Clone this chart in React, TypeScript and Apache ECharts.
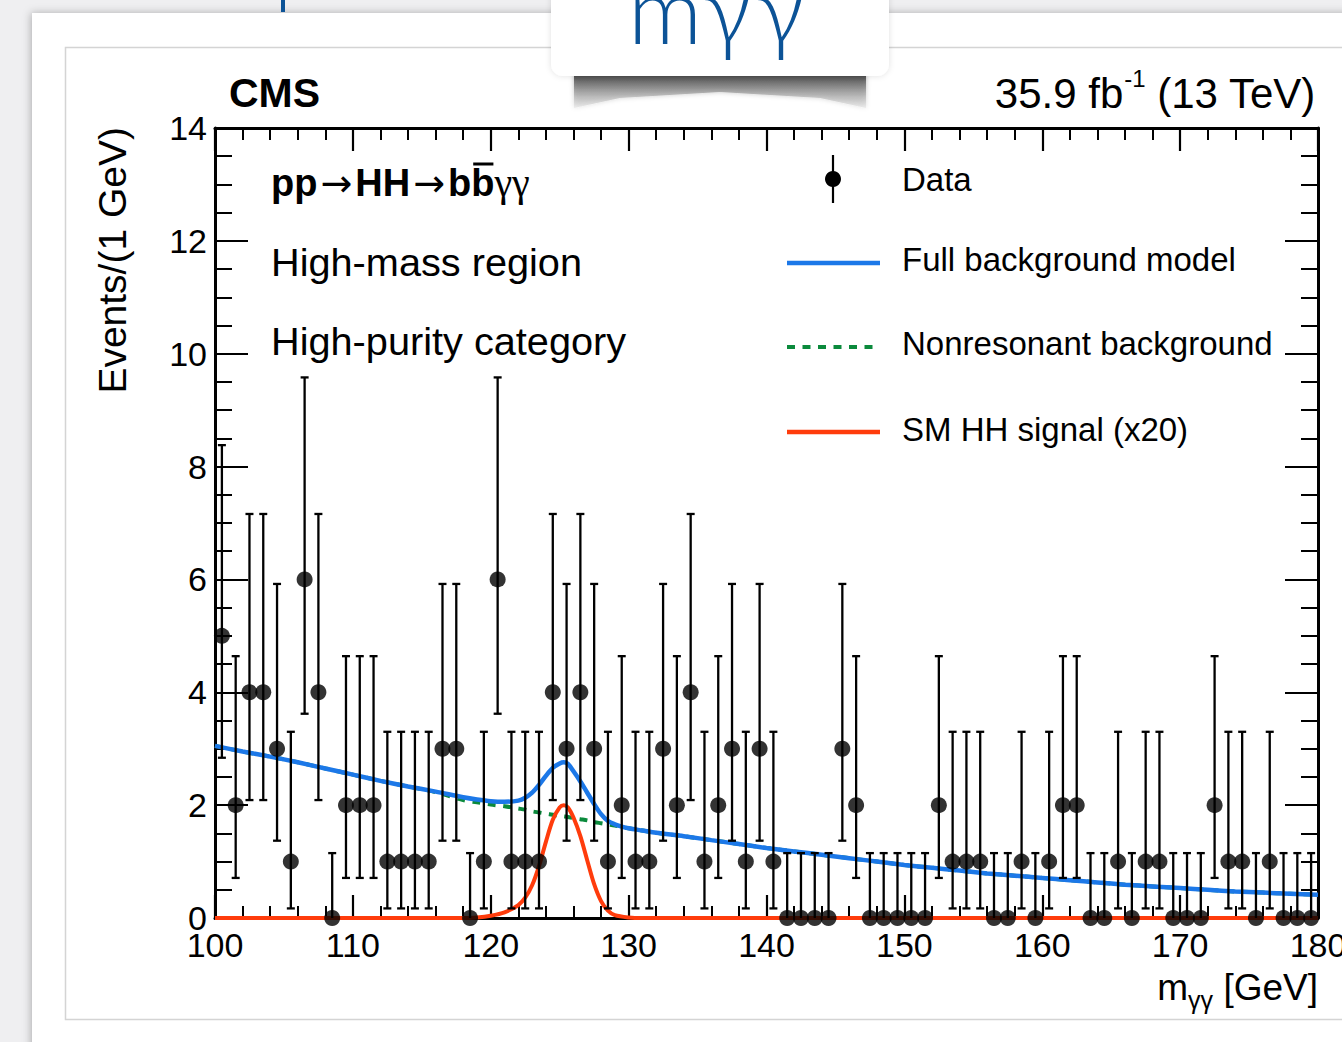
import React, { useEffect, useRef } from "react";
import * as echarts from "echarts";

// ---------------- data ----------------
const binCenters = [
  100.5, 101.5, 102.5, 103.5, 104.5, 105.5, 106.5, 107.5, 108.5, 109.5,
  110.5, 111.5, 112.5, 113.5, 114.5, 115.5, 116.5, 117.5, 118.5, 119.5,
  120.5, 121.5, 122.5, 123.5, 124.5, 125.5, 126.5, 127.5, 128.5, 129.5,
  130.5, 131.5, 132.5, 133.5, 134.5, 135.5, 136.5, 137.5, 138.5, 139.5,
  140.5, 141.5, 142.5, 143.5, 144.5, 145.5, 146.5, 147.5, 148.5, 149.5,
  150.5, 151.5, 152.5, 153.5, 154.5, 155.5, 156.5, 157.5, 158.5, 159.5,
  160.5, 161.5, 162.5, 163.5, 164.5, 165.5, 166.5, 167.5, 168.5, 169.5,
  170.5, 171.5, 172.5, 173.5, 174.5, 175.5, 176.5, 177.5, 178.5, 179.5,
];
const eventCounts = [
  5, 2, 4, 4, 3, 1, 6, 4, 0, 2,
  2, 2, 1, 1, 1, 1, 3, 3, 0, 1,
  6, 1, 1, 1, 4, 3, 4, 3, 1, 2,
  1, 1, 3, 2, 4, 1, 2, 3, 1, 3,
  1, 0, 0, 0, 0, 3, 2, 0, 0, 0,
  0, 0, 2, 1, 1, 1, 0, 0, 1, 0,
  1, 2, 2, 0, 0, 1, 0, 1, 1, 0,
  0, 0, 2, 1, 1, 0, 1, 0, 0, 0,
];
// Poisson interval bounds (index = observed count), as drawn
const poissonLow = [0, 0.17, 0.71, 1.37, 2.09, 2.84, 3.62];
const poissonHigh = [1.15, 3.3, 4.64, 5.92, 7.16, 8.38, 9.58];

const bkgMass = [
  100, 102, 104, 106, 108, 110, 112, 114, 116, 118, 119, 120, 121, 122, 122.5,
  123, 123.5, 124, 124.5, 125, 125.3, 125.6, 126, 126.5, 127, 127.5, 128, 128.5,
  129, 129.5, 130, 131, 132, 134, 136, 138, 140, 142, 144, 146, 148, 150, 152,
  154, 156, 158, 160, 162, 164, 166, 168, 170, 172, 174, 176, 178, 180,
];
const fullBkg = [
  3.05, 2.95, 2.86, 2.76, 2.65, 2.54, 2.43, 2.33, 2.24, 2.14, 2.1, 2.07, 2.06, 2.08, 2.13,
  2.22, 2.36, 2.52, 2.66, 2.74, 2.76, 2.73, 2.6, 2.42, 2.22, 2.02, 1.84, 1.72,
  1.66, 1.62, 1.59, 1.55, 1.51, 1.45, 1.38, 1.31, 1.24, 1.18, 1.12, 1.06, 1.0, 0.94, 0.89,
  0.84, 0.79, 0.75, 0.71, 0.67, 0.63, 0.59, 0.56, 0.53, 0.5, 0.47, 0.45, 0.43, 0.41,
];
const nonresBkg = [
  3.05, 2.95, 2.86, 2.76, 2.65, 2.54, 2.43, 2.33, 2.23, 2.09, 2.05, 2.01, 1.98, 1.94, 1.92,
  1.89, 1.87, 1.85, 1.83, 1.81, 1.8, 1.79, 1.77, 1.75, 1.73, 1.7, 1.68, 1.66,
  1.64, 1.61, 1.59, 1.55, 1.51, 1.45, 1.38, 1.31, 1.24, 1.18, 1.12, 1.06, 1.0, 0.94, 0.89,
  0.84, 0.79, 0.75, 0.71, 0.67, 0.63, 0.59, 0.56, 0.53, 0.5, 0.47, 0.45, 0.43, 0.41,
];
const sigMass = [
  100, 118, 119, 120, 121, 122, 122.5, 123, 123.5, 124, 124.5, 125, 125.3, 125.6,
  126, 126.5, 127, 127.5, 128, 128.5, 129, 130, 131, 180,
];
const sigHH = [
  0, 0, 0.01, 0.04, 0.1, 0.23, 0.36, 0.58, 0.92, 1.35, 1.74, 1.96, 2.0, 1.96,
  1.78, 1.45, 1.02, 0.6, 0.3, 0.13, 0.05, 0.01, 0, 0,
];

const xRange = [100, 180];
const yRange = [0, 14];
const processLabel = ["pp", "→", "HH", "→", "b", "b", "γγ"];
const infoLines = ["High-mass region", "High-purity category"];
const legendLabels = ["Data", "Full background model", "Nonresonant background", "SM HH signal (x20)"];

// ---------------- styling helpers ----------------
const FONT = "'Liberation Sans', Arial, Helvetica, sans-serif";
const BLUE = "#1c78e8";
const GREEN = "#0b8a3c";
const RED = "#ff3c0c";

let ctx: CanvasRenderingContext2D | null = null;
function tw(text: string, size: number, weight = "normal", family = FONT) {
  if (!ctx) ctx = document.createElement("canvas").getContext("2d");
  ctx!.font = `${weight} ${size}px ${family}`;
  return ctx!.measureText(text).width;
}
type Seg = { text: string; size: number; weight?: string | number; rise?: number; family?: string; pre?: number; post?: number };
function segText(x: number, baseline: number, segs: Seg[], align: "left" | "right", fill = "#000") {
  const widths = segs.map((s) => tw(s.text, s.size, String(s.weight || "normal"), s.family || FONT));
  const total = widths.reduce((a, b, i) => a + b + (segs[i].pre || 0) + (segs[i].post || 0), 0);
  let cx = align === "right" ? x - total : x;
  const els: any[] = [];
  const starts: number[] = [];
  segs.forEach((s, i) => {
    cx += s.pre || 0;
    starts.push(cx);
    els.push({
      type: "text",
      z: 100,
      x: cx,
      y: baseline - (s.rise || 0) - 0.3465 * s.size,
      style: {
        text: s.text,
        fontSize: s.size,
        fontWeight: s.weight || "normal",
        fontFamily: s.family || FONT,
        fill,
        textAlign: "left",
        textVerticalAlign: "middle",
      },
    });
    cx += widths[i] + (s.post || 0);
  });
  return { els, starts, widths };
}

function makeAxis(min: number, max: number, interval: number, minorSplit: number, majorLen: number, minorLen: number) {
  return {
    type: "value",
    min,
    max,
    interval,
    axisLine: { show: true, onZero: false, lineStyle: { color: "#000", width: 3 } },
    axisTick: { show: true, inside: true, length: majorLen, lineStyle: { color: "#000", width: 2.2 } },
    minorTick: { show: true, splitNumber: minorSplit, length: minorLen, lineStyle: { color: "#000", width: 2 } },
    splitLine: { show: false },
  };
}

export default function App() {
  const ref = useRef<HTMLDivElement>(null);
  useEffect(() => {
    const chart = echarts.init(ref.current!, null, { renderer: "svg" });

    const errData = eventCounts.map((c, i) => [binCenters[i], poissonLow[c], poissonHigh[c]]);
    const ptData = eventCounts.map((c, i) => [binCenters[i], c]);

    const graphics: any[] = [];
    // slide / page decoration
    graphics.push({
      type: "rect", z: -100, shape: { x: 32, y: 13, width: 1330, height: 1050 },
      style: { fill: "#ffffff", shadowBlur: 8, shadowColor: "rgba(0,0,0,0.28)", shadowOffsetX: -1 },
    });
    graphics.push({
      type: "rect", z: -99, shape: { x: 65.5, y: 47.5, width: 1300, height: 972 },
      style: { fill: "#ffffff", stroke: "#d4d4d4", lineWidth: 1.5 },
    });
    graphics.push({ type: "rect", z: -98, shape: { x: 281, y: 0, width: 4, height: 12 }, style: { fill: "#0c5397" } });
    // curled shadow under the title tag
    graphics.push({
      type: "polygon", z: 90,
      shape: { points: [[574, 74], [866, 74], [866, 108], [820, 98], [720, 92], [620, 98], [574, 108]] },
      style: {
        fill: new echarts.graphic.LinearGradient(0, 0, 0, 1, [
          { offset: 0, color: "rgba(60,60,60,0.95)" },
          { offset: 0.35, color: "rgba(110,110,110,0.75)" },
          { offset: 1, color: "rgba(190,190,190,0.25)" },
        ]),
        shadowBlur: 5,
        shadowColor: "rgba(0,0,0,0.35)",
      },
    });
    graphics.push({
      type: "rect", z: 91, shape: { x: 551, y: -20, width: 338, height: 96, r: 12 },
      style: { fill: "#ffffff", shadowBlur: 6, shadowColor: "rgba(0,0,0,0.12)" },
    });
    const titleGlyphs = [
      { t: "m", x: 628 },
      { t: "γ", x: 703 },
      { t: "γ", x: 756 },
    ];
    titleGlyphs.forEach((g) =>
      graphics.push({
        type: "text", z: 95, x: g.x, y: 8,
        style: { text: g.t, fontSize: 92, fontWeight: 300, fontFamily: "Lato, 'Open Sans', sans-serif", fill: "#0c5397", textAlign: "left", textVerticalAlign: "middle" },
      })
    );

    // CMS label & luminosity
    graphics.push(...segText(229, 107, [{ text: "CMS", size: 41, weight: "bold" }], "left").els);
    graphics.push(
      ...segText(1316, 108, [
        { text: "35.9 fb", size: 42 },
        { text: "-1", size: 24, rise: 21, pre: 1 },
        { text: " (13 TeV)", size: 42 },
      ], "right").els
    );

    // process label with b-bar
    const arrowFam = "'DejaVu Sans', sans-serif";
    const proc = segText(271, 196, [
      { text: processLabel[0], size: 38, weight: "bold" },
      { text: processLabel[1], size: 38, family: arrowFam, pre: 3, post: 3 },
      { text: processLabel[2], size: 38, weight: "bold" },
      { text: processLabel[3], size: 38, family: arrowFam, pre: 3, post: 3 },
      { text: processLabel[4], size: 38, weight: "bold" },
      { text: processLabel[5], size: 38, weight: "bold" },
      { text: processLabel[6], size: 40, family: "'Liberation Serif', serif" },
    ], "left");
    graphics.push(...proc.els);
    graphics.push({
      type: "line", z: 100,
      shape: { x1: proc.starts[5] + 2, y1: 164, x2: proc.starts[5] + proc.widths[5] - 1, y2: 164 },
      style: { stroke: "#000", lineWidth: 3 },
    });
    graphics.push(...segText(271, 276, [{ text: infoLines[0], size: 39.7 }], "left").els);
    graphics.push(...segText(271, 355, [{ text: infoLines[1], size: 39.7 }], "left").els);

    // legend
    const legY = [179, 263, 347, 432];
    const legBase = [191, 271, 355, 441];
    graphics.push({ type: "line", z: 100, shape: { x1: 833, y1: 155, x2: 833, y2: 203 }, style: { stroke: "#000", lineWidth: 2.2 } });
    graphics.push({ type: "circle", z: 100, shape: { cx: 833, cy: legY[0], r: 8 }, style: { fill: "#000" } });
    graphics.push({ type: "line", z: 100, shape: { x1: 787, y1: legY[1], x2: 880, y2: legY[1] }, style: { stroke: BLUE, lineWidth: 4.5 } });
    graphics.push({ type: "line", z: 100, shape: { x1: 787, y1: legY[2], x2: 880, y2: legY[2] }, style: { stroke: GREEN, lineWidth: 4, lineDash: [8, 7.5] } });
    graphics.push({ type: "line", z: 100, shape: { x1: 787, y1: legY[3], x2: 880, y2: legY[3] }, style: { stroke: RED, lineWidth: 4.5 } });
    legendLabels.forEach((t, i) => graphics.push(...segText(902, legBase[i], [{ text: t, size: 33 }], "left").els));

    // axis titles
    graphics.push({
      type: "text", z: 100, x: 112, y: 127, rotation: Math.PI / 2,
      style: { text: "Events/(1 GeV)", fontSize: 39, fontFamily: FONT, fill: "#000", textAlign: "right", textVerticalAlign: "middle" },
    });
    graphics.push(
      ...segText(1318, 1000, [
        { text: "m", size: 37 },
        { text: "γγ", size: 25, rise: -9 },
        { text: " [GeV]", size: 37 },
      ], "right").els
    );

    const option: any = {
      animation: false,
      backgroundColor: "#efeff1",
      grid: { left: 215, top: 128, width: 1103, height: 790, containLabel: false, outerBoundsMode: "none" },
      xAxis: [
        {
          ...makeAxis(xRange[0], xRange[1], 10, 5, 23, 12),
          position: "bottom",
          axisLabel: { show: true, fontSize: 34, color: "#000", fontFamily: FONT, margin: 10 },
        },
        { ...makeAxis(xRange[0], xRange[1], 10, 5, 23, 12), position: "top", axisLabel: { show: false } },
      ],
      yAxis: [
        {
          ...makeAxis(yRange[0], yRange[1], 2, 4, 33, 17),
          position: "left",
          axisLabel: { show: true, fontSize: 34, color: "#000", fontFamily: FONT, margin: 8 },
        },
        { ...makeAxis(yRange[0], yRange[1], 2, 4, 33, 17), position: "right", axisLabel: { show: false } },
      ],
      series: [
        {
          type: "line", name: "Nonresonant background", z: 3, clip: false, symbol: "none", smooth: 0.3,
          data: bkgMass.map((m, i) => [m, nonresBkg[i]]),
          lineStyle: { color: GREEN, width: 4, type: [8, 7.5] },
        },
        {
          type: "line", name: "Full background model", z: 4, clip: false, symbol: "none", smooth: 0.3,
          data: bkgMass.map((m, i) => [m, fullBkg[i]]),
          lineStyle: { color: BLUE, width: 4.5 },
        },
        {
          type: "line", name: "SM HH signal (x20)", z: 5, clip: false, symbol: "none", smooth: 0.3,
          data: sigMass.map((m, i) => [m, sigHH[i]]),
          lineStyle: { color: RED, width: 4 },
        },
        {
          type: "custom", name: "Data errors", z: 10, clip: false,
          data: errData,
          encode: { x: 0, y: [1, 2] },
          renderItem: (params: any, api: any) => {
            const x = api.value(0), lo = api.value(1), hi = api.value(2);
            const a = api.coord([x, lo]);
            const b = api.coord([x, hi]);
            const st = { stroke: "#000", lineWidth: 2.3 };
            const children: any[] = [
              { type: "line", shape: { x1: a[0], y1: a[1], x2: b[0], y2: b[1] }, style: st },
              { type: "line", shape: { x1: b[0] - 4, y1: b[1], x2: b[0] + 4, y2: b[1] }, style: st },
            ];
            if (lo > 0) children.push({ type: "line", shape: { x1: a[0] - 4, y1: a[1], x2: a[0] + 4, y2: a[1] }, style: st });
            return { type: "group", children };
          },
        },
        {
          type: "scatter", name: "Data", z: 11, clip: false,
          data: ptData, symbol: "circle", symbolSize: 16,
          itemStyle: { color: "#000" },
        },
      ],
      graphic: { elements: graphics },
    };
    chart.setOption(option);
    return () => chart.dispose();
  }, []);
  return <div ref={ref} style={{ position: "fixed", left: 0, top: 0, width: 1342, height: 1042 }} />;
}
